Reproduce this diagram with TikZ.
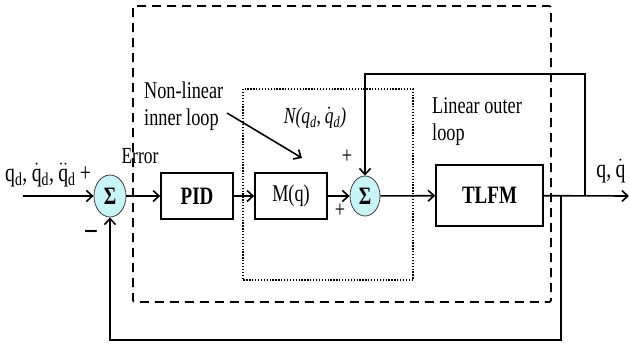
\documentclass[tikz,border=0pt]{standalone}
\usepackage{fontspec}
\setmainfont{Liberation Serif}[FakeStretch=0.76]
\usetikzlibrary{arrows.meta,shapes.geometric}
\newcommand\dq{\ensuremath{\dot{\hbox{q}}}}
\newcommand\ddq{\ensuremath{\ddot{\hbox{q}}}}
\definecolor{sumfill}{HTML}{C8F4F6}
\tikzset{
  lbl/.style={font=\fontsize{24}{27}\selectfont, inner sep=0pt},
  blk/.style={draw, line width=1.6pt, minimum width=72pt, minimum height=46pt, inner sep=0pt, font=\fontsize{24}{27}\selectfont},
  sumnode/.style={ellipse, draw=black!75, line width=0.8pt, fill=sumfill, minimum width=32pt, minimum height=42pt, inner sep=0pt, font=\fontsize{25}{26}\selectfont\bfseries},
  wire/.style={line width=1.6pt, -{Straight Barb[length=6pt,width=11pt,line width=1.6pt]}},
  dashbox/.style={line width=1.8pt, dash pattern=on 9pt off 6pt, rounded corners=2pt},
  dotbox/.style={line width=1.6pt, dash pattern=on 1.3pt off 1.6pt},
}
\begin{document}
\begin{tikzpicture}[x=1pt,y=-1pt]
\useasboundingbox (0,0) rectangle (629,343);
% boxes of regions
\draw[dashbox] (133,6) rectangle (551,302);
\draw[dotbox] (243,89) rectangle (413,280);
% blocks
\node[sumnode] (s1) at (110,196) {Σ};
\node[blk, font=\fontsize{25}{27}\selectfont\bfseries] (pid) at (197,196) {PID};
\node[blk] (mq) at (291,196) {M(q)};
\node[sumnode, minimum width=30pt, minimum height=40pt] (s2) at (365,196) {Σ};
\node[blk, minimum width=107pt, minimum height=61pt, font=\fontsize{25}{27}\selectfont\bfseries] (tlfm) at (489.5,195.5) {TLFM};
\coordinate (in) at (23,196);
\coordinate (out) at (629,196);
\coordinate (tap1) at (561,196);
\coordinate (tap2) at (585,196);
% main path
\draw[wire] (in) -- (s1);
\draw[wire] (s1) -- (pid);
\draw[wire] (pid) -- (mq);
\draw[wire] (mq) -- (s2);
\draw[wire] (s2) -- (tlfm);
\draw[wire] (tlfm) -- (out);
% feedback loops
\draw[wire] (tap1) -- (561,340) -- (s1.south |- 0,340) -- (s1.south);
\draw[wire] (tap2) -- (585,74) -- (s2.north |- 0,74) -- (s2.north);
% labels
\node[lbl, anchor=base west, font=\fontsize{26}{27}\selectfont] (qin) at (5,181) {q\textsubscript{d},\,\dq\textsubscript{d},\,\ddq\textsubscript{d}\,+};
\node[lbl, font=\fontsize{23}{24}\selectfont] (err) at (140,156) {Error};
\node[lbl, font=\fontsize{30}{30}\selectfont\bfseries] (minus) at (91,234) {–};
\node[lbl, anchor=west, align=left] (nl) at (144,106) {Non-linear\\inner loop};
\coordinate (nla) at (227,113);
\coordinate (nlb) at (302,158);
\draw[wire] (nla) -- (nlb);
\node[lbl, font=\fontsize{23}{26}\selectfont\itshape] (nq) at (315,118) {N(q\textsubscript{d},\,\dq\textsubscript{d})};
\node[lbl] (p1) at (347,157) {+};
\node[lbl] (p2) at (340,211) {+};
\node[lbl, anchor=west, align=left] (lo) at (432,122) {Linear outer\\loop};
\node[lbl, anchor=base, font=\fontsize{26}{27}\selectfont] (qout) at (611,177) {q,\,\dq};
\end{tikzpicture}
\end{document}
